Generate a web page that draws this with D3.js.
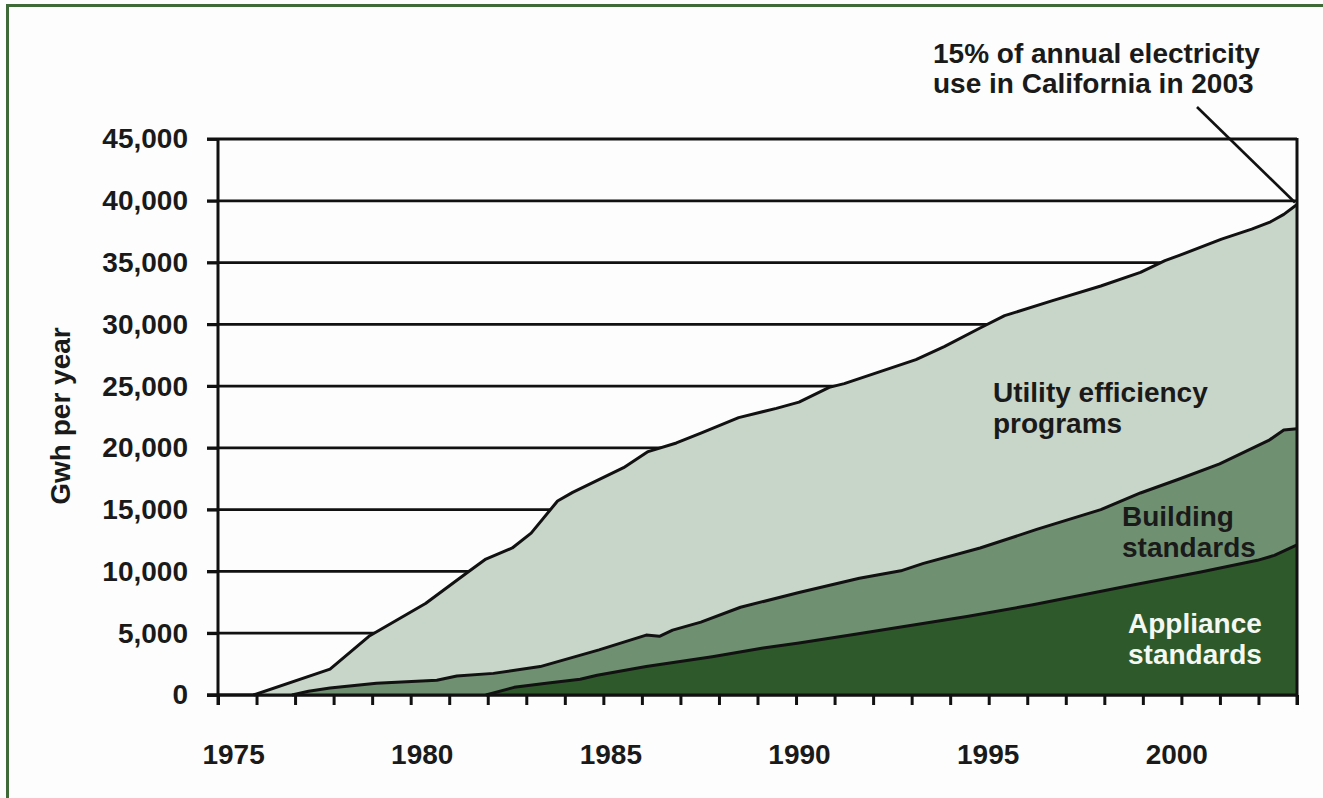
<!DOCTYPE html>
<html>
<head>
<meta charset="utf-8">
<script src="https://cdn.jsdelivr.net/npm/d3@7"></script>
<style>
  html, body { margin: 0; padding: 0; background: #fdfdfd; }
  svg { display: block; font-family: "Liberation Sans", Arial, sans-serif; font-weight: bold; }
</style>
</head>
<body>
<div id="chart"></div>
<script>
// cumulative savings (GWh per year)
const totalYears = [1975.54, 1977.57, 1978.6, 1980.1, 1981.2, 1981.7, 1982.4, 1982.9, 1983.6, 1984.0,
  1985.35, 1986.0, 1986.75, 1987.4, 1988.4, 1989.4, 1990.0, 1990.8, 1991.2, 1993.1, 1993.85, 1994.8,
  1995.45, 1996.7, 1998.0, 1999.05, 1999.7, 2000.1, 2001.2, 2002.0, 2002.5, 2002.85, 2003.2];
const totalValues = [0, 2100, 4750, 7400, 9900, 11000, 11900, 13100, 15700, 16400,
  18400, 19700, 20400, 21200, 22450, 23200, 23700, 24900, 25200, 27150, 28200, 29700,
  30700, 31900, 33100, 34200, 35150, 35600, 36900, 37700, 38300, 38900, 39700];

const buildingYears = [1976.56, 1977.0, 1977.57, 1978.8, 1980.4, 1980.93, 1981.9, 1983.14, 1984.7,
  1985.95, 1986.3, 1986.65, 1987.4, 1988.45, 1990.0, 1991.6, 1992.7, 1993.3, 1994.8, 1996.3,
  1998.0, 1999.05, 2000.1, 2001.15, 2002.45, 2002.85, 2003.2];
const buildingValues = [0, 300, 560, 950, 1200, 1540, 1750, 2300, 3650,
  4850, 4750, 5250, 5900, 7100, 8300, 9450, 10050, 10650, 11900, 13400,
  15000, 16350, 17500, 18700, 20600, 21450, 21550];

const applianceYears = [1981.7, 1982.45, 1983.3, 1984.2, 1984.65, 1985.95, 1987.7, 1989.05, 1990.0,
  1991.45, 1994.45, 1996.2, 1998.85, 2000.65, 2002.15, 2002.6, 2003.2];
const applianceValues = [0, 620, 950, 1270, 1600, 2300, 3100, 3800, 4200,
  4900, 6350, 7300, 8900, 9950, 10900, 11300, 12150];

const yTicks = [0, 5000, 10000, 15000, 20000, 25000, 30000, 35000, 40000, 45000];
const yearLabels = [1975, 1980, 1985, 1990, 1995, 2000];
const tickCount = 28; // category tick marks along the bottom

const width = 1323, height = 798;
const margin = { left: 218, right: 26, top: 139, bottom: 103 };

const svg = d3.select("#chart").append("svg")
  .attr("width", width)
  .attr("height", height);

// green frame (only top and left edges are in view)
svg.append("path")
  .attr("d", "M7.5,798 V5.5 H1323")
  .attr("fill", "none")
  .attr("stroke", "#3d6a37")
  .attr("stroke-width", 3);

const x = d3.scaleLinear()
  .domain([1974.6, 2003.2])
  .range([margin.left, width - margin.right]);

const y = d3.scaleLinear()
  .domain([0, 45000])
  .range([height - margin.bottom, margin.top]);

const x0 = x.range()[0], x1 = x.range()[1];

// gridlines, under the areas
svg.append("g")
  .selectAll("line")
  .data(yTicks)
  .join("line")
  .attr("x1", x0 - 11)
  .attr("x2", x1)
  .attr("y1", d => y(d))
  .attr("y2", d => y(d))
  .attr("stroke", "#111")
  .attr("stroke-width", 2.8);

const layers = [
  { name: "total", years: totalYears, values: totalValues, fill: "#c8d5c9" },
  { name: "building", years: buildingYears, values: buildingValues, fill: "#6f9171" },
  { name: "appliance", years: applianceYears, values: applianceValues, fill: "#2e5a2b" }
];

const area = d3.area()
  .x(d => x(d[0]))
  .y0(y(0))
  .y1(d => y(d[1]));

const line = d3.line()
  .x(d => x(d[0]))
  .y(d => y(d[1]));

layers.forEach(l => {
  const pts = l.years.map((yr, i) => [yr, l.values[i]]);
  svg.append("path")
    .datum(pts)
    .attr("d", area)
    .attr("fill", l.fill);
  svg.append("path")
    .datum(pts)
    .attr("d", line)
    .attr("fill", "none")
    .attr("stroke", "#111")
    .attr("stroke-width", 3)
    .attr("stroke-linejoin", "round");
});

// y axis labels with outward ticks
const yAxis = svg.append("g")
  .attr("transform", `translate(${x0},0)`)
  .call(d3.axisLeft(y).tickValues(yTicks).tickSize(11).tickPadding(19).tickFormat(d3.format(",")));
yAxis.select(".domain").remove();
yAxis.selectAll("line").attr("stroke", "#111").attr("stroke-width", 2.8);
yAxis.selectAll("text")
  .attr("font-size", 28)
  .attr("font-family", "'Liberation Sans', Arial, sans-serif")
  .attr("font-weight", "bold")
  .attr("fill", "#1a1a1a");

// bottom tick marks
const step = (x.domain()[1] - x.domain()[0]) / tickCount;
const tickVals = d3.range(tickCount + 1).map(i => x.domain()[0] + i * step);
const xAxis = svg.append("g")
  .attr("transform", `translate(0,${y(0)})`)
  .call(d3.axisBottom(x).tickValues(tickVals).tickSize(10).tickFormat(""));
xAxis.select(".domain").remove();
xAxis.selectAll("line").attr("stroke", "#111").attr("stroke-width", 3);

// year labels
const xLabels = svg.append("g")
  .attr("transform", `translate(0,${y(0) + 46})`)
  .call(d3.axisBottom(x).tickValues(yearLabels).tickSize(0).tickFormat(d3.format("d")));
xLabels.select(".domain").remove();
xLabels.selectAll("text")
  .attr("font-size", 28)
  .attr("font-family", "'Liberation Sans', Arial, sans-serif")
  .attr("font-weight", "bold")
  .attr("fill", "#1a1a1a");

// frame lines: left axis, bottom axis, right edge
svg.append("line")
  .attr("x1", x0).attr("x2", x0)
  .attr("y1", y(45000) - 1).attr("y2", y(0) + 10)
  .attr("stroke", "#111").attr("stroke-width", 3);
svg.append("line")
  .attr("x1", x1).attr("x2", x1)
  .attr("y1", y(45000) - 1).attr("y2", y(0) + 10)
  .attr("stroke", "#111").attr("stroke-width", 3);
svg.append("line")
  .attr("x1", x0 - 11).attr("x2", x1)
  .attr("y1", y(0)).attr("y2", y(0))
  .attr("stroke", "#111").attr("stroke-width", 3);

// y title
svg.append("text")
  .attr("transform", `translate(70,${(y(0) + y(45000)) / 2 - 1}) rotate(-90)`)
  .attr("text-anchor", "middle")
  .attr("font-size", 28)
  .attr("fill", "#1a1a1a")
  .text("Gwh per year");

// annotation
const lastYear = totalYears[totalYears.length - 1];
const lastTotal = totalValues[totalValues.length - 1];
svg.append("line")
  .attr("x1", 1197).attr("y1", 107)
  .attr("x2", x(lastYear) - 2).attr("y2", y(lastTotal) - 2)
  .attr("stroke", "#111").attr("stroke-width", 2.6);

const note = svg.append("text")
  .attr("font-size", 28)
  .attr("fill", "#1a1a1a");
note.append("tspan").attr("x", 933).attr("y", 63).text("15% of annual electricity");
note.append("tspan").attr("x", 933).attr("y", 93).text("use in California in 2003");

// layer labels
const labels = [
  { lines: ["Utility efficiency", "programs"], x: 993, y: 402, fill: "#1a1a1a" },
  { lines: ["Building", "standards"], x: 1122, y: 526, fill: "#1a1a1a" },
  { lines: ["Appliance", "standards"], x: 1128, y: 633, fill: "#f4f7f2" }
];

labels.forEach(l => {
  const t = svg.append("text")
    .attr("font-size", 28)
    .attr("fill", l.fill);
  l.lines.forEach((s, i) => {
    t.append("tspan").attr("x", l.x).attr("y", l.y + i * 31).text(s);
  });
});
</script>
</body>
</html>
